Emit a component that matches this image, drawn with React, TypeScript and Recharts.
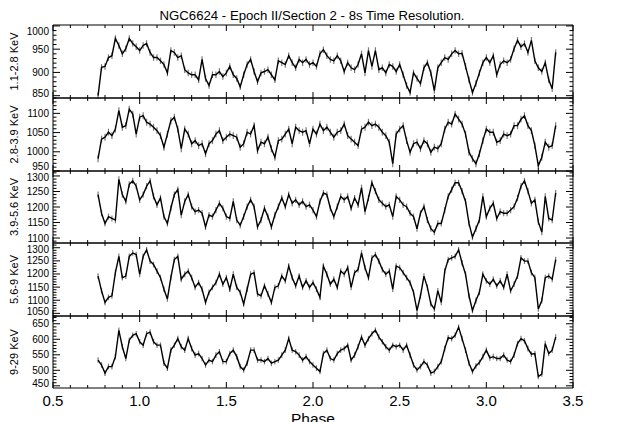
import React from 'react';
import { LineChart, Line, XAxis, YAxis, ErrorBar } from 'recharts';

// phase of each 8s bin (every 0.02)
const phase = [
  0.76, 0.78, 0.8, 0.82, 0.84, 0.86, 0.88, 0.9, 0.92, 0.94, 0.96, 0.98,
  1.0, 1.02, 1.04, 1.06, 1.08, 1.1, 1.12, 1.14, 1.16, 1.18, 1.2, 1.22, 1.24, 1.26, 1.28, 1.3, 1.32, 1.34, 1.36, 1.38,
  1.4, 1.42, 1.44, 1.46, 1.48, 1.5, 1.52, 1.54, 1.56, 1.58, 1.6, 1.62, 1.64, 1.66, 1.68, 1.7, 1.72, 1.74, 1.76, 1.78,
  1.8, 1.82, 1.84, 1.86, 1.88, 1.9, 1.92, 1.94, 1.96, 1.98,
  2.0, 2.02, 2.04, 2.06, 2.08, 2.1, 2.12, 2.14, 2.16, 2.18, 2.2, 2.22, 2.24, 2.26, 2.28, 2.3, 2.32, 2.34, 2.36, 2.38,
  2.4, 2.42, 2.44, 2.46, 2.48, 2.5, 2.52, 2.54, 2.56, 2.58, 2.6, 2.62, 2.64, 2.66, 2.68, 2.7, 2.72, 2.74, 2.76, 2.78,
  2.8, 2.82, 2.84, 2.86, 2.88, 2.9, 2.92, 2.94, 2.96, 2.98,
  3.0, 3.02, 3.04, 3.06, 3.08, 3.1, 3.12, 3.14, 3.16, 3.18, 3.2, 3.22, 3.24, 3.26, 3.28, 3.3, 3.32, 3.34, 3.36, 3.38, 3.4,
];

// count rates per energy band
const band1 = [
  850, 911, 913, 932, 936, 973, 958, 940, 951, 973,
  962, 955, 947, 958, 962, 943, 932, 932, 925, 917,
  899, 947, 943, 932, 936, 906, 899, 895, 895, 884,
  928, 887, 872, 895, 895, 902, 891, 899, 913, 895,
  887, 869, 895, 917, 928, 902, 880, 899, 902, 906,
  895, 884, 925, 921, 917, 936, 921, 910, 928, 921,
  928, 917, 921, 913, 940, 949, 936, 928, 925, 936,
  925, 902, 921, 910, 906, 917, 940, 899, 947, 913,
  947, 906, 910, 899, 917, 913, 902, 917, 895, 872,
  857, 899, 887, 876, 910, 921, 899, 861, 910, 921,
  932, 928, 940, 947, 940, 941, 913, 884, 857, 876,
  899, 921, 932, 921, 936, 895, 917, 925, 921, 928,
  951, 969, 955, 962, 943, 969, 925, 910, 902, 921,
  884, 865, 943,
];
const band2 = [
  982, 1033, 1038, 1051, 1042, 1059, 1107, 1064, 1068, 1111,
  1098, 1046, 1090, 1094, 1077, 1072, 1064, 1055, 1042, 1012,
  1046, 1081, 1090, 1059, 1008, 1059, 1046, 1021, 1029, 1016,
  1021, 995, 1021, 1029, 1046, 1055, 1029, 1038, 1046, 1042,
  1038, 1012, 1021, 1051, 1046, 1068, 1003, 1025, 1021, 1038,
  1008, 986, 1029, 1033, 1046, 1059, 1021, 1064, 1055, 1051,
  1055, 1021, 1059, 1046, 1072, 1055, 1064, 1051, 1038, 1051,
  1055, 1072, 1042, 1033, 1025, 1016, 1059, 1064, 1077, 1068,
  1072, 1064, 1051, 1042, 1025, 969, 1046, 1059, 1068, 1029,
  999, 1021, 1025, 1008, 1029, 1021, 999, 1012, 1008, 1021,
  1059, 1077, 1072, 1098, 1085, 1072, 1046, 999, 982, 969,
  995, 1029, 1059, 1051, 1051, 1025, 1029, 1046, 1042, 1046,
  1068, 1068, 1085, 1094, 1068, 1055, 1016, 964, 986, 1025,
  1012, 1016, 1068,
];
const band3 = [
  1240, 1180, 1147, 1169, 1163, 1158, 1289, 1240, 1218, 1273,
  1284, 1267, 1223, 1240, 1267, 1284, 1234, 1207, 1229, 1169,
  1147, 1196, 1240, 1256, 1174, 1218, 1240, 1201, 1185, 1190,
  1180, 1136, 1174, 1169, 1190, 1212, 1196, 1169, 1163, 1218,
  1158, 1141, 1169, 1201, 1223, 1201, 1136, 1158, 1196, 1169,
  1136, 1174, 1201, 1229, 1201, 1240, 1212, 1223, 1207, 1218,
  1201, 1207, 1190, 1169, 1218, 1245, 1240, 1196, 1169, 1201,
  1234, 1223, 1234, 1196, 1229, 1207, 1262, 1185, 1229, 1278,
  1251, 1223, 1212, 1201, 1207, 1169, 1234, 1223, 1207, 1201,
  1180, 1169, 1130, 1180, 1201, 1158, 1130, 1119, 1147, 1147,
  1190, 1234, 1256, 1278, 1278, 1251, 1218, 1147, 1103, 1130,
  1158, 1234, 1169, 1196, 1212, 1163, 1185, 1180, 1180, 1190,
  1201, 1229, 1267, 1284, 1251, 1212, 1223, 1152, 1119, 1234,
  1163, 1158, 1245,
];
const band4 = [
  1192, 1136, 1092, 1111, 1117, 1205, 1267, 1186, 1192, 1267,
  1280, 1274, 1199, 1267, 1292, 1249, 1236, 1211, 1186, 1142,
  1105, 1186, 1255, 1267, 1180, 1199, 1211, 1186, 1149, 1167,
  1142, 1092, 1130, 1149, 1167, 1199, 1161, 1186, 1142, 1199,
  1149, 1130, 1086, 1142, 1199, 1205, 1124, 1117, 1155, 1124,
  1092, 1149, 1155, 1192, 1174, 1230, 1186, 1155, 1192, 1149,
  1174, 1149, 1167, 1142, 1111, 1230, 1199, 1161, 1180, 1149,
  1211, 1199, 1224, 1149, 1205, 1217, 1280, 1224, 1186, 1261,
  1274, 1249, 1217, 1199, 1211, 1142, 1230, 1224, 1205, 1186,
  1167, 1130, 1061, 1117, 1192, 1149, 1086, 1067, 1136, 1092,
  1211, 1255, 1261, 1267, 1292, 1242, 1199, 1117, 1061, 1099,
  1130, 1199, 1174, 1161, 1180, 1155, 1174, 1149, 1199, 1136,
  1161, 1192, 1261, 1249, 1249, 1205, 1186, 1067, 1099, 1186,
  1192, 1180, 1255,
];
const band5 = [
  533, 517, 491, 512, 512, 544, 629, 576, 538, 597,
  613, 618, 592, 581, 618, 623, 592, 581, 581, 523,
  507, 565, 581, 602, 576, 565, 602, 570, 549, 554,
  538, 517, 533, 528, 549, 560, 528, 528, 554, 565,
  544, 512, 501, 523, 565, 565, 533, 533, 528, 538,
  523, 528, 533, 549, 565, 602, 565, 560, 549, 533,
  544, 528, 517, 507, 496, 554, 565, 538, 533, 554,
  565, 570, 581, 533, 549, 576, 607, 581, 602, 618,
  629, 607, 592, 576, 565, 581, 576, 581, 565, 581,
  549, 517, 501, 512, 528, 517, 491, 496, 512, 528,
  570, 605, 602, 613, 639, 602, 565, 523, 496, 514,
  525, 544, 565, 540, 544, 538, 538, 549, 533, 528,
  549, 586, 602, 595, 570, 552, 554, 480, 488, 586,
  554, 565, 607,
];

const bands = [band1, band2, band3, band4, band5];
const channels = ['1.1-2.8 KeV', '2.8-3.9 KeV', '3.9-5.6 KeV', '5.6-9 KeV', '9-29 KeV'];
const errSize = [7, 9, 10, 11, 9]; // half length of the grey error bars
const yRanges = [[845, 1002], [950, 1140], [1084, 1316], [1040, 1318], [443, 675]];
const xMajor = [0.5, 1.0, 1.5, 2.0, 2.5, 3.0, 3.5];

const FONT = '"Liberation Sans", Arial, Helvetica, sans-serif';
const W = 618;
const H = 422;
const LEFT = 53;
const RIGHT = 45;
const PAD = 12;
const panelTop = [25, 98, 171, 243, 316];
const panelH = [73, 73, 72, 73, 72];

const steps = (lo: number, hi: number, step: number) => {
  const out: number[] = [];
  for (let v = Math.ceil(lo / step - 1e-9) * step; v <= hi + 1e-9; v += step) out.push(Math.round(v * 100) / 100);
  return out;
};
const xTicks = steps(0.5, 3.5, 0.1);

const xTick = (where: 'top' | 'bottom', labels: boolean) => (p: any) => {
  const { x, y, payload } = p;
  const v = payload.value;
  const major = xMajor.some(m => Math.abs(m - v) < 1e-6);
  const len = major ? 6 : 3;
  const dir = where === 'top' ? 1 : -1;
  return (
    <g>
      <line x1={x} x2={x} y1={y} y2={y + dir * len} stroke="#000" strokeWidth={1} />
      {labels && major && (
        <text x={x} y={y + 17.5} textAnchor="middle" fontSize={15} fontFamily={FONT} fill="#000">
          {v.toFixed(1)}
        </text>
      )}
    </g>
  );
};

// labels hugging a panel edge are nudged inwards so neighbouring panels do not collide
const yTick = (side: 'left' | 'right', topY: number, bottomY: number) => (p: any) => {
  const { x, y, payload } = p;
  const v = payload.value;
  const major = v % 50 === 0;
  const len = major ? 7 : 3.5;
  const dir = side === 'left' ? 1 : -1;
  let ly = y;
  if (y > bottomY - 3) ly = bottomY - 4.5;
  if (y < topY + 6.5) ly = Math.max(y, topY + 6.5);
  return (
    <g>
      <line x1={x} x2={x + dir * len} y1={y} y2={y} stroke="#000" strokeWidth={1} />
      {side === 'left' && major && (
        <text x={x - 4} y={ly + 3.5} textAnchor="end" fontSize={10} fontFamily={FONT} fill="#000">
          {v}
        </text>
      )}
    </g>
  );
};

function Panel({ idx }: { idx: number }) {
  const last = idx === bands.length - 1;
  const h = panelH[idx];
  const padB = last ? 36 : PAD;
  const [lo, hi] = yRanges[idx];
  const yTicks = steps(lo, hi, 10);
  const rows = phase.map((ph, i) => ({ phase: ph, rate: bands[idx][i], err: errSize[idx] }));
  const axisLine = { stroke: '#000', strokeWidth: 1 };

  return (
    <div style={{ position: 'absolute', left: 0, top: panelTop[idx] - PAD }}>
      <LineChart width={W} height={PAD + h + padB} data={rows} margin={{ top: 0, right: 0, bottom: 0, left: 0 }}>
        <XAxis xAxisId="t" orientation="top" dataKey="phase" type="number" domain={[0.5, 3.5]} ticks={xTicks}
          interval={0} height={PAD} tickSize={0} tickMargin={0} tickLine={false} axisLine={axisLine}
          tick={xTick('top', false)} />
        <XAxis xAxisId="b" orientation="bottom" dataKey="phase" type="number" domain={[0.5, 3.5]} ticks={xTicks}
          interval={0} height={padB} tickSize={0} tickMargin={0} tickLine={false} axisLine={axisLine}
          tick={xTick('bottom', last)} />
        <YAxis yAxisId="l" orientation="left" type="number" domain={[lo, hi]} allowDataOverflow ticks={yTicks}
          interval={0} width={LEFT} tickSize={0} tickMargin={0} tickLine={false} axisLine={axisLine}
          tick={yTick('left', PAD, PAD + h)} />
        <YAxis yAxisId="r" orientation="right" type="number" domain={[lo, hi]} allowDataOverflow ticks={yTicks}
          interval={0} width={RIGHT} tickSize={0} tickMargin={0} tickLine={false} axisLine={axisLine}
          tick={yTick('right', PAD, PAD + h)} />
        <Line xAxisId="b" yAxisId="l" dataKey="rate" stroke="none" dot={false} isAnimationActive={false}>
          <ErrorBar dataKey="err" direction="y" width={0} stroke="#7a7a7a" strokeWidth={1.2} isAnimationActive={false} />
        </Line>
        <Line xAxisId="b" yAxisId="l" dataKey="rate" type="linear" stroke="#000" strokeWidth={1.4}
          dot={false} isAnimationActive={false} />
      </LineChart>
    </div>
  );
}

export default function App() {
  return (
    <div style={{ position: 'absolute', left: 0, top: 0, width: W, height: H, background: '#fff', overflow: 'hidden' }}>
      {bands.map((_, i) => <Panel key={i} idx={i} />)}
      <svg width={W} height={H} style={{ position: 'absolute', left: 0, top: 0, pointerEvents: 'none' }}>
        <text x={312} y={20} textAnchor="middle" fontSize={13.2} fontFamily={FONT} fill="#000">
          NGC6624 - Epoch II/Section 2 - 8s Time Resolution.
        </text>
        {channels.map((c, i) => (
          <text key={c} transform={`translate(17.5, ${panelTop[i] + panelH[i] / 2}) rotate(-90)`}
            textAnchor="middle" fontSize={11} fontFamily={FONT} fill="#000">
            {c}
          </text>
        ))}
        <text x={313} y={423.5} textAnchor="middle" fontSize={15.5} fontFamily={FONT} fill="#000">Phase</text>
      </svg>
    </div>
  );
}
